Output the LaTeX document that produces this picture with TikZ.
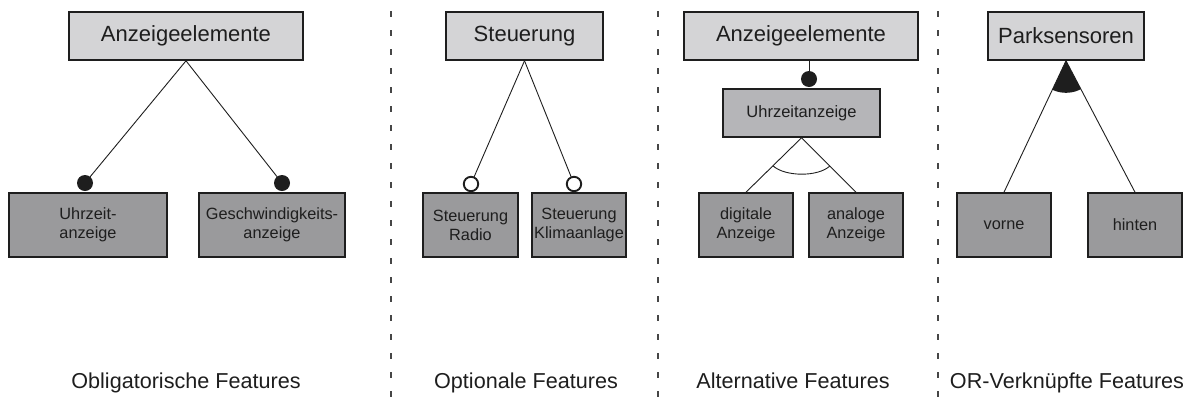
\documentclass[tikz,border=0pt]{standalone}
\usepackage{fontspec}
\setmainfont{Liberation Sans}
\usetikzlibrary{calc}
\definecolor{boxtop}{RGB}{212,212,214}
\definecolor{boxmid}{RGB}{181,181,184}
\definecolor{boxleaf}{RGB}{154,154,156}
\definecolor{ink}{RGB}{30,30,30}
\definecolor{sep}{RGB}{70,70,70}
\tikzset{
  feat/.style={draw=ink, line width=1.6pt, rectangle, inner sep=0pt, align=center, text=ink},
  rootbox/.style={feat, fill=boxtop, minimum height=48pt, font=\fontsize{22}{26}\selectfont},
  midbox/.style={feat, fill=boxmid, minimum height=48pt, font=\fontsize{16.5}{19}\selectfont},
  leafbox/.style={feat, fill=boxleaf, minimum height=64pt, font=\fontsize{16.3}{18.8}\selectfont},
  link/.style={draw=ink, line width=0.9pt},
  mand/.style={fill=ink},
  opt/.style={draw=ink, fill=white, line width=1.9pt},
  caption/.style={text=ink, font=\fontsize{21.6}{26}\selectfont, inner sep=0pt, anchor=base},
  separator/.style={draw=sep, line width=1.8pt, dash pattern=on 6pt off 13pt}
}
\begin{document}
\begin{tikzpicture}[x=1pt, y=-1pt]
\useasboundingbox (0,0) rectangle (1191,397);

% separators between the four groups
\draw[separator] (391,11) -- (391,397);
\draw[separator] (658,11) -- (658,397);
\draw[separator] (938,11) -- (938,397);

% --- mandatory features
\node[rootbox, minimum width=234pt] (a1) at (186,36) {Anzeigeelemente};
\node[leafbox, minimum width=158pt] (uz) at (88,225) {Uhrzeit-\\anzeige};
\node[leafbox, minimum width=146pt] (gw) at (272,225) {Geschwindigkeits-\\anzeige};
\coordinate (m1) at (85,183);
\coordinate (m2) at (282,183);
\draw[link] (a1.south) -- (m1);
\draw[link] (a1.south) -- (m2);
\fill[mand] (m1) circle (8pt);
\fill[mand] (m2) circle (8pt);

% --- optional features
\node[rootbox, minimum width=157pt] (st) at (524.5,36) {Steuerung};
\node[leafbox, minimum width=95pt] (sr) at (470.5,225) {Steuerung\\Radio};
\node[leafbox, minimum width=94pt] (sk) at (579,225) {Steuerung\\Klimaanlage};
\coordinate (o1) at (471,184);
\coordinate (o2) at (574,184);
\draw[link] (st.south) -- (o1);
\draw[link] (st.south) -- (o2);
\draw[opt] (o1) circle (7.2pt);
\draw[opt] (o2) circle (7.2pt);

% --- alternative features
\node[rootbox, minimum width=234pt] (a3) at (801,36) {Anzeigeelemente};
\node[midbox, minimum width=157pt] (ua) at (801.5,113) {Uhrzeitanzeige};
\node[leafbox, minimum width=94pt] (dg) at (746,225) {digitale\\Anzeige};
\node[leafbox, minimum width=94pt] (an) at (856,225) {analoge\\Anzeige};
\coordinate (m3) at (809,79);
\draw[link] (m3 |- a3.south) -- (m3);
\fill[mand] (m3) circle (8pt);
\draw[link] (ua.south) -- (dg.north);
\draw[link] (ua.south) -- (an.north);
\coordinate (x1) at ($(ua.south)!40pt!(dg.north)$);
\coordinate (x2) at ($(ua.south)!40pt!(an.north)$);
\draw[link] (x1) .. controls ($(x1)+(12,11)$) and ($(x2)+(-12,11)$) .. (x2);

% --- or-related features
\node[rootbox, minimum width=156pt] (pk) at (1066,36) {Parksensoren};
\node[leafbox, minimum width=94pt] (vo) at (1004,225) {vorne};
\node[leafbox, minimum width=94pt] (hi) at (1135,225) {hinten};
\begin{scope}
  \clip (pk.south) -- (vo.north) -- (hi.north) -- cycle;
  \fill[mand] (pk.south) circle (32pt);
\end{scope}
\draw[link] (pk.south) -- (vo.north);
\draw[link] (pk.south) -- (hi.north);

% captions
\node[caption] (c1) at (186,388) {Obligatorische Features};
\node[caption] (c2) at (526,388) {Optionale Features};
\node[caption] (c3) at (793,388) {Alternative Features};
\node[caption] (c4) at (1067,388) {OR-Verknüpfte Features};
\end{tikzpicture}
\end{document}
